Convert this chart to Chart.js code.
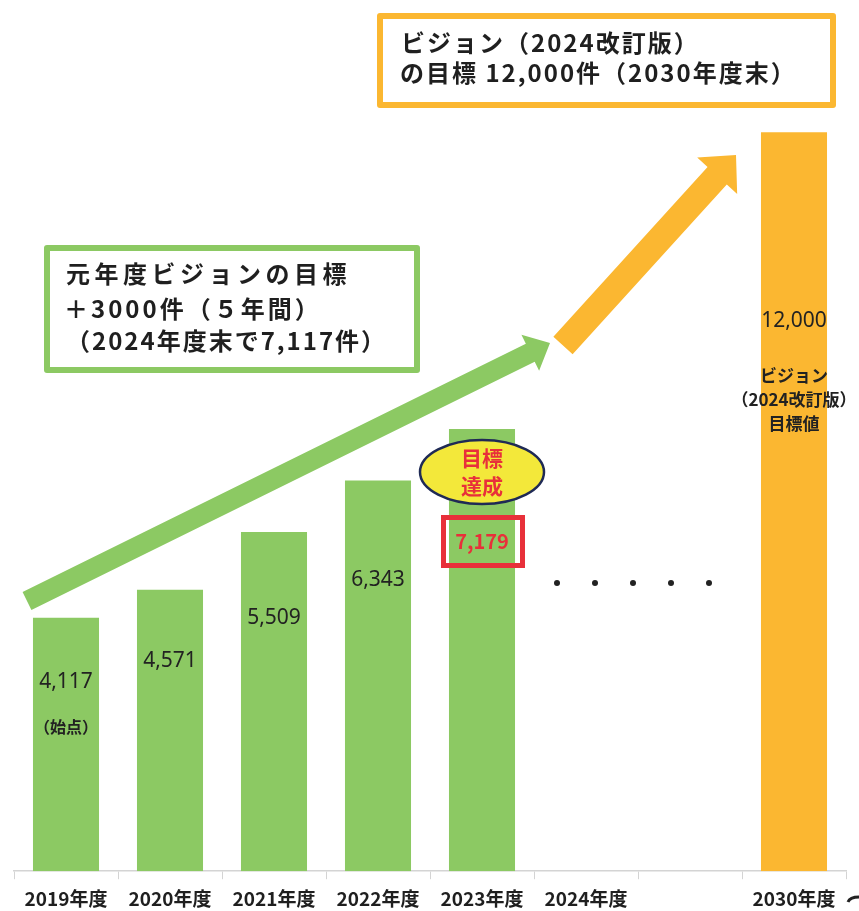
<!DOCTYPE html>
<html lang="ja">
<head>
<meta charset="utf-8">
<title>ビジョン目標件数の推移</title>
<script src="https://cdn.jsdelivr.net/npm/chart.js@4.4.1/dist/chart.umd.min.js"></script>
<style>
  html, body { margin: 0; padding: 0; background: #fff; }
  #wrap { width: 859px; height: 911px; }
</style>
</head>
<body>
<div id="wrap"><canvas id="visionChart" width="859" height="911"></canvas></div>
<script>
// 年度ごとの件数（2024年度・空欄は値なし）
const years = ['2019年度', '2020年度', '2021年度', '2022年度', '2023年度', '2024年度', '', '2030年度'];
const counts = [4117, 4571, 5509, 6343, 7179, null, null, 12000];
const barColors = ['#8cc963', '#8cc963', '#8cc963', '#8cc963', '#8cc963', '#8cc963', '#8cc963', '#fbb731'];

const JP = '"Noto Sans CJK JP", "Noto Sans", sans-serif';
const GREEN = '#8cc963';
const ORANGE = '#fbb731';
const RED = '#e8303a';

function fmt(v) {
  return v.toLocaleString('en-US');
}

// 太い矢印（軸と矢じり）
function drawArrow(ctx, x0, y0, x1, y1, shaftW, headW, headL, color) {
  const dx = x1 - x0, dy = y1 - y0;
  const len = Math.hypot(dx, dy);
  const ux = dx / len, uy = dy / len;
  const nx = -uy, ny = ux;
  const bx = x1 - ux * headL, by = y1 - uy * headL;
  ctx.save();
  ctx.fillStyle = color;
  ctx.beginPath();
  ctx.moveTo(x0 + nx * shaftW / 2, y0 + ny * shaftW / 2);
  ctx.lineTo(bx + nx * shaftW / 2, by + ny * shaftW / 2);
  ctx.lineTo(bx + nx * headW / 2, by + ny * headW / 2);
  ctx.lineTo(x1, y1);
  ctx.lineTo(bx - nx * headW / 2, by - ny * headW / 2);
  ctx.lineTo(bx - nx * shaftW / 2, by - ny * shaftW / 2);
  ctx.lineTo(x0 - nx * shaftW / 2, y0 - ny * shaftW / 2);
  ctx.closePath();
  ctx.fill();
  ctx.restore();
}

function textBox(ctx, x, y, w, h, color, lines, tx, lineYs, spacing) {
  ctx.save();
  ctx.fillStyle = '#fff';
  ctx.fillRect(x, y, w, h);
  ctx.strokeStyle = color;
  ctx.lineWidth = 6;
  ctx.lineJoin = 'round';
  ctx.strokeRect(x, y, w, h);
  ctx.fillStyle = '#1f1f1f';
  ctx.font = 'bold 24px ' + JP;
  ctx.textAlign = 'left';
  ctx.textBaseline = 'middle';
  lines.forEach((s, i) => {
    ctx.letterSpacing = spacing[i] + 'px';
    ctx.fillText(s, tx[i], lineYs[i]);
  });
  ctx.restore();
}

const overlay = {
  id: 'overlay',
  afterDatasetsDraw(chart) {
    const ctx = chart.ctx;
    const bars = chart.getDatasetMeta(0).data;
    const base = chart.scales.y.getPixelForValue(0);

    // 棒の中の件数
    ctx.save();
    ctx.textAlign = 'center';
    ctx.textBaseline = 'middle';
    counts.forEach((v, i) => {
      if (v == null) return;
      const b = bars[i];
      const ly = b.y + (base - b.y) * 0.255;
      if (i === 4) {
        ctx.fillStyle = RED;
        ctx.font = 'bold 20px ' + JP;
      } else {
        ctx.fillStyle = '#222';
        ctx.font = '21px "Noto Sans", sans-serif';
      }
      ctx.fillText(fmt(v), b.x, ly);
    });

    // 始点・2030年度の注記
    ctx.fillStyle = '#222';
    ctx.font = 'bold 16px ' + JP;
    ctx.fillText('（始点）', bars[0].x, 727);
    ctx.font = 'bold 17px ' + JP;
    ctx.fillText('ビジョン', bars[7].x, 376);
    ctx.fillText('（2024改訂版）', bars[7].x, 400);
    ctx.fillText('目標値', bars[7].x, 424);

    // 7,179 の赤枠
    ctx.strokeStyle = RED;
    ctx.lineWidth = 5;
    ctx.strokeRect(bars[4].x - 38.5, 517.5, 79, 48);

    // 目標達成の楕円
    ctx.beginPath();
    ctx.ellipse(bars[4].x, 472, 62, 32, 0, 0, Math.PI * 2);
    ctx.fillStyle = '#f3e83a';
    ctx.fill();
    ctx.lineWidth = 2.5;
    ctx.strokeStyle = '#1f2a55';
    ctx.stroke();
    ctx.fillStyle = RED;
    ctx.font = 'bold 21px ' + JP;
    ctx.fillText('目標', bars[4].x, 458);
    ctx.fillText('達成', bars[4].x, 486);

    // 2024〜2030 の間の点線
    ctx.fillStyle = '#222';
    [557, 595, 633, 671, 709].forEach(dx => {
      ctx.beginPath();
      ctx.arc(dx, 583, 3, 0, Math.PI * 2);
      ctx.fill();
    });
    ctx.restore();

    // 伸びを示す矢印
    drawArrow(ctx, 27, 601, 550, 343, 20, 40, 22, GREEN);
    drawArrow(ctx, 563, 345.5, 736, 155, 26, 54, 28, ORANGE);

    // 吹き出し
    textBox(ctx, 47, 248, 370, 122, GREEN,
      ['元年度ビジョンの目標', '＋3000件（５年間）', '（2024年度末で7,117件）'],
      [66, 64, 66], [274, 309, 341], [4.5, 3, 2]);
    textBox(ctx, 380, 16, 453, 89, ORANGE,
      ['ビジョン（2024改訂版）', 'の目標 12,000件（2030年度末）'],
      [401, 400], [43, 73], [2, 2]);

    // 右下の切れ端
    ctx.save();
    ctx.strokeStyle = '#222';
    ctx.lineWidth = 3;
    ctx.beginPath();
    ctx.moveTo(848, 902);
    ctx.quadraticCurveTo(850, 897, 859, 897);
    ctx.stroke();
    ctx.restore();
  }
};

new Chart(document.getElementById('visionChart'), {
  type: 'bar',
  data: {
    labels: years,
    datasets: [{
      data: counts,
      backgroundColor: barColors,
      borderWidth: 0,
      categoryPercentage: 1,
      barPercentage: 0.635
    }]
  },
  options: {
    responsive: false,
    animation: false,
    layout: { padding: { left: 14, right: 13, top: 9, bottom: -7 } },
    plugins: {
      legend: { display: false },
      tooltip: { enabled: false }
    },
    scales: {
      x: {
        offset: true,
        grid: {
          display: true,
          offset: true,
          drawOnChartArea: false,
          drawTicks: true,
          tickLength: 8,
          color: '#d4d4d4'
        },
        border: { display: true, color: '#d4d4d4', width: 1.5 },
        ticks: {
          autoSkip: false,
          maxRotation: 0,
          padding: 8,
          color: '#1f1f1f',
          font: { family: JP, size: 19, weight: 'bold' }
        }
      },
      y: {
        display: false,
        min: 0,
        max: 14000
      }
    }
  },
  plugins: [overlay]
});
</script>
</body>
</html>
